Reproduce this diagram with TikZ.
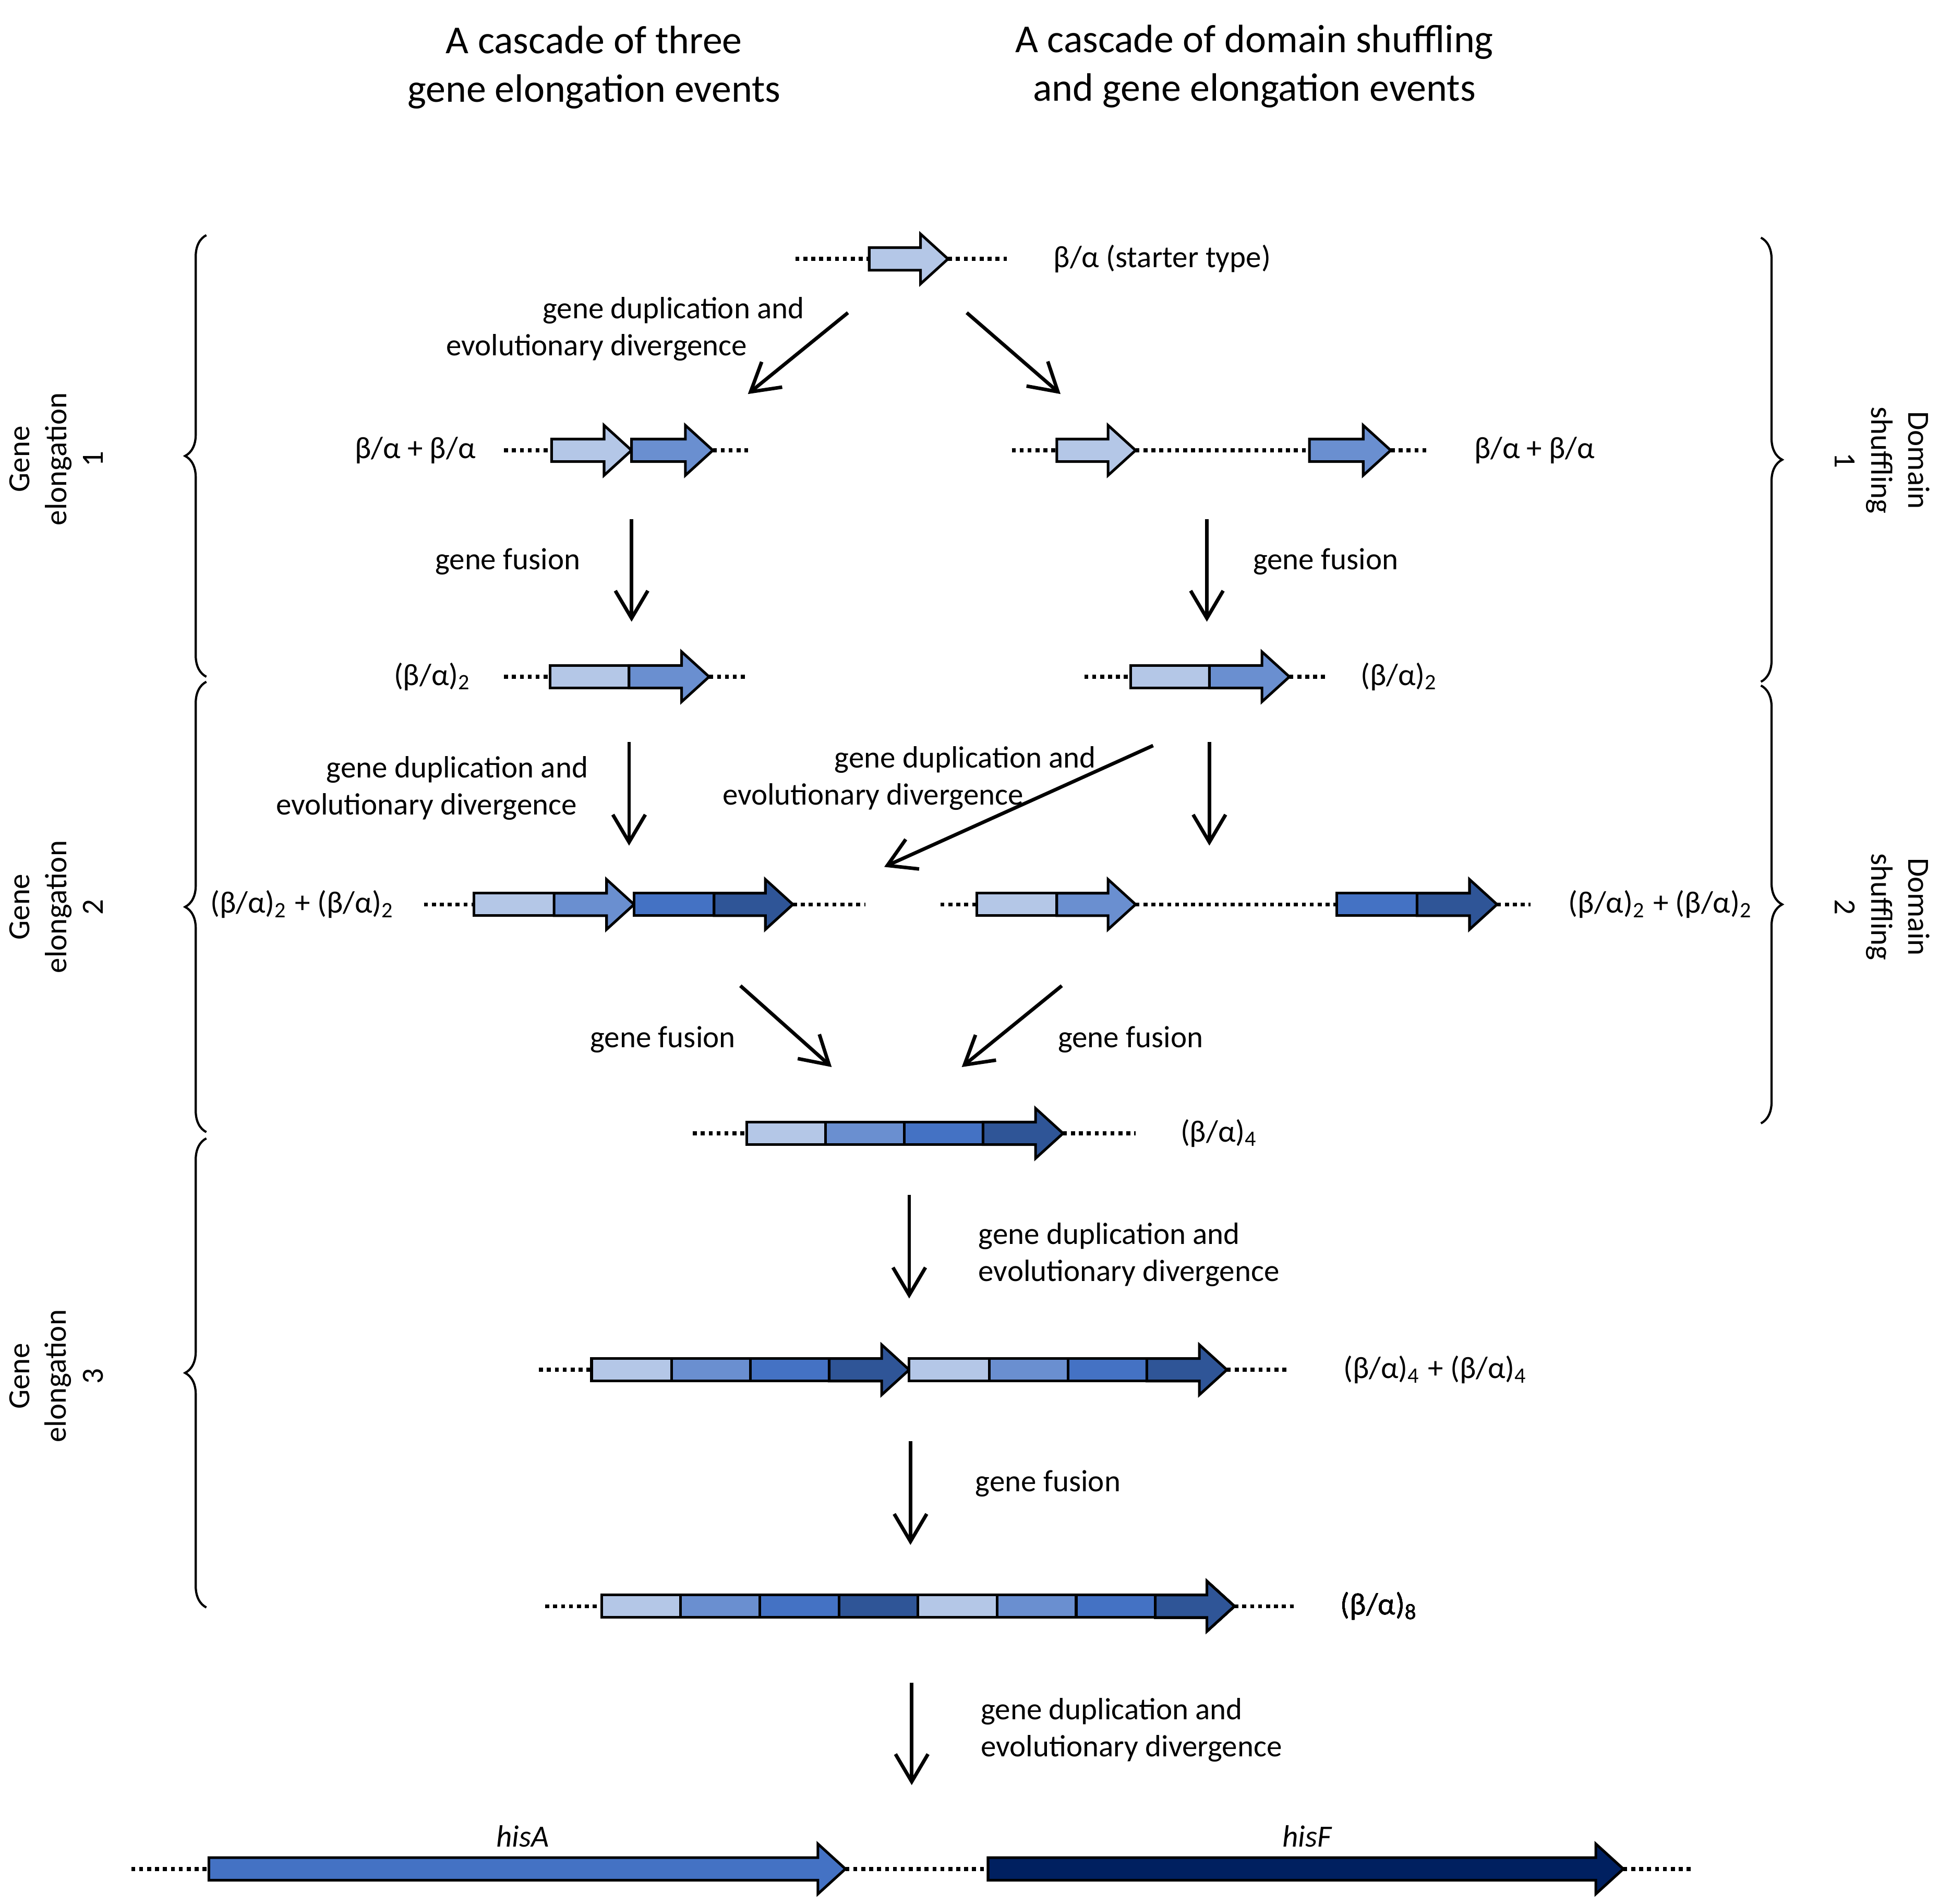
\documentclass[tikz,border=0pt]{standalone}
\usepackage{fontspec}
\setmainfont{Carlito}
\usetikzlibrary{arrows.meta,decorations.pathreplacing}
\definecolor{cone}{HTML}{B4C7E7}
\definecolor{ctwo}{HTML}{6A8FD0}
\definecolor{cthree}{HTML}{4472C4}
\definecolor{cfour}{HTML}{2F5597}
\definecolor{cnavy}{HTML}{002060}
\tikzset{
  txt/.style={font=\fontsize{7}{8.4}\selectfont, align=center},
  ttl/.style={font=\fontsize{9}{11}\selectfont, align=center},
  dots/.style={line width=0.9pt, dash pattern=on 0.9pt off 0.9pt},
  evo/.style={line width=0.8pt, -{Straight Barb[length=2.2mm,width=2.6mm]}},
  gbox/.style={draw=black, line width=0.6pt},
  brc/.style={decorate, decoration={brace, amplitude=0.17cm}, line width=0.5pt}
}
% box segment: x0, x1, y, colour
\newcommand{\gseg}[4]{\filldraw[gbox, fill=#4] ({#1},{#3-9}) rectangle ({#2},{#3+9});}
% arrow segment: x0, tip, y, colour
\newcommand{\gtip}[4]{\filldraw[gbox, fill=#4] ({#1},{#3-9}) -- ({#2-22},{#3-9}) -- ({#2-22},{#3-20}) -- ({#2},{#3}) -- ({#2-22},{#3+20}) -- ({#2-22},{#3+9}) -- ({#1},{#3+9}) -- cycle;}
\newcommand{\gdots}[3]{\draw[dots] ({#1},{#3}) -- ({#2},{#3});}
\begin{document}
\begin{tikzpicture}[x=0.01cm,y=-0.01cm]
\useasboundingbox (0,0) rectangle (1560,1522);
% headings
\node[ttl] (hl) at (475,54) {A cascade of three\\gene elongation events};
\node[ttl] (hr) at (1003,53) {A cascade of domain shuffling\\and gene elongation events};
% row 0
\gdots{636}{695}{207} \gtip{695}{758}{207}{cone} \gdots{758}{805}{207}
\node[txt, anchor=west] (l0) at (830,207) {β/α (starter type)};
\coordinate (a0s) at (678,250); \coordinate (a0e) at (598,315);
\coordinate (b0s) at (773,250); \coordinate (b0e) at (848,315);
\draw[evo] (a0s) -- (a0e);
\draw[evo] (b0s) -- (b0e);
\node[txt] (t0) at (477,263) {\hspace*{5em}gene duplication and\\evolutionary divergence};
% row 1
\node[txt] (l1a) at (332,360) {β/α + β/α};
\gdots{403}{441}{360} \gtip{441}{505}{360}{cone} \gtip{505}{570}{360}{ctwo} \gdots{570}{598}{360}
\gdots{809}{845}{360} \gtip{845}{908}{360}{cone} \gdots{908}{1047}{360} \gtip{1047}{1112}{360}{ctwo} \gdots{1112}{1143}{360}
\node[txt] (l1b) at (1227,360) {β/α + β/α};
\coordinate (a1s) at (505,415); \coordinate (a1e) at (505,497);
\coordinate (b1s) at (965,415); \coordinate (b1e) at (965,497);
\draw[evo] (a1s) -- (a1e);
\draw[evo] (b1s) -- (b1e);
\node[txt] (t1a) at (406,449) {gene fusion};
\node[txt] (t1b) at (1060,449) {gene fusion};
% row 2
\node[txt] (l2a) at (346,541) {(β/α)\textsubscript{2}};
\gdots{403}{440}{541} \gseg{440}{503}{541}{cone} \gtip{503}{567}{541}{ctwo} \gdots{567}{598}{541}
\gdots{867}{904}{541} \gseg{904}{967}{541}{cone} \gtip{967}{1031}{541}{ctwo} \gdots{1031}{1062}{541}
\node[txt] (l2b) at (1119,541) {(β/α)\textsubscript{2}};
\coordinate (a2s) at (503,593); \coordinate (a2e) at (503,676);
\coordinate (c2s) at (922,596); \coordinate (c2e) at (707,693);
\coordinate (b2s) at (967,593); \coordinate (b2e) at (967,676);
\draw[evo] (a2s) -- (a2e);
\draw[evo] (c2s) -- (c2e);
\draw[evo] (b2s) -- (b2e);
\node[txt] (t2a) at (341,630) {\hspace*{2em}gene duplication and\\evolutionary divergence};
\node[txt] (t2b) at (698,622) {\hspace*{6em}gene duplication and\\evolutionary divergence};
% row 3
\node[txt] (l3a) at (242,723) {(β/α)\textsubscript{2} + (β/α)\textsubscript{2}};
\gdots{339}{379}{723} \gseg{379}{443}{723}{cone} \gtip{443}{507}{723}{ctwo} \gseg{507}{571}{723}{cthree} \gtip{571}{634}{723}{cfour} \gdots{634}{692}{723}
\gdots{752}{781}{723} \gseg{781}{845}{723}{cone} \gtip{845}{908}{723}{ctwo} \gdots{908}{1069}{723} \gseg{1069}{1133}{723}{cthree} \gtip{1133}{1197}{723}{cfour} \gdots{1197}{1224}{723}
\node[txt] (l3b) at (1328,723) {(β/α)\textsubscript{2} + (β/α)\textsubscript{2}};
\coordinate (a3s) at (592,788); \coordinate (a3e) at (665,853);
\coordinate (b3s) at (849,788); \coordinate (b3e) at (769,853);
\draw[evo] (a3s) -- (a3e);
\draw[evo] (b3s) -- (b3e);
\node[txt] (t3a) at (530,831) {gene fusion};
\node[txt] (t3b) at (904,831) {gene fusion};
% row 4
\gdots{554}{597}{906} \gseg{597}{660}{906}{cone} \gseg{660}{723}{906}{ctwo} \gseg{723}{786}{906}{cthree} \gtip{786}{850}{906}{cfour} \gdots{850}{908}{906}
\node[txt] (l4) at (975,906) {(β/α)\textsubscript{4}};
\coordinate (a4s) at (727,955); \coordinate (a4e) at (727,1038);
\draw[evo] (a4s) -- (a4e);
\node[txt, anchor=west, align=left] (t4) at (770,1003) {gene duplication and\\evolutionary divergence};
% row 5
\gdots{431}{473}{1095}
\gseg{473}{537}{1095}{cone} \gseg{537}{600}{1095}{ctwo} \gseg{600}{663}{1095}{cthree} \gtip{663}{727}{1095}{cfour}
\gseg{727}{791}{1095}{cone} \gseg{791}{854}{1095}{ctwo} \gseg{854}{917}{1095}{cthree} \gtip{917}{981}{1095}{cfour}
\gdots{981}{1030}{1095}
\node[txt] (l5) at (1148,1095) {(β/α)\textsubscript{4} + (β/α)\textsubscript{4}};
\coordinate (a5s) at (728,1152); \coordinate (a5e) at (728,1235);
\draw[evo] (a5s) -- (a5e);
\node[txt] (t5) at (838,1186) {gene fusion};
% row 6
\gdots{436}{481}{1284}
\foreach \i/\c in {0/cone,1/ctwo,2/cthree,3/cfour,4/cone,5/ctwo,6/cthree}
  \gseg{481+63.25*\i}{481+63.25*(\i+1)}{1284}{\c}
\gtip{923.75}{987}{1284}{cfour}
\gdots{987}{1035}{1284}
\node[txt] (l6) at (1103,1284) {(β/α)\textsubscript{8}};
\coordinate (a6s) at (729,1345); \coordinate (a6e) at (729,1427);
\draw[evo] (a6s) -- (a6e);
\node[txt, anchor=west, align=left] (t6) at (772,1383) {gene duplication and\\evolutionary divergence};
% row 7
\gdots{105}{167}{1494} \gtip{167}{676}{1494}{cthree} \gdots{676}{790}{1494} \gtip{790}{1298}{1494}{cnavy} \gdots{1298}{1352}{1494}
\node[txt, font=\fontsize{7}{8.4}\selectfont\itshape] (ha) at (418,1468) {hisA};
\node[txt, font=\fontsize{7}{8.4}\selectfont\itshape] (hf) at (1045,1468) {hisF};
% braces
\draw[brc] (165,541) -- (165,188);
\draw[brc] (165,905) -- (165,545);
\draw[brc] (165,1285) -- (165,910);
\draw[brc] (1408,190) -- (1408,545);
\draw[brc] (1408,548) -- (1408,898);
\node[txt, rotate=90] (g1) at (45,367) {Gene\\elongation\\1};
\node[txt, rotate=90] (g2) at (45,725) {Gene\\elongation\\2};
\node[txt, rotate=90] (g3) at (45,1100) {Gene\\elongation\\3};
\node[txt, rotate=-90] (d1) at (1505,368) {Domain\\shuffling\\1};
\node[txt, rotate=-90] (d2) at (1505,725) {Domain\\shuffling\\2};
\end{tikzpicture}
\end{document}
